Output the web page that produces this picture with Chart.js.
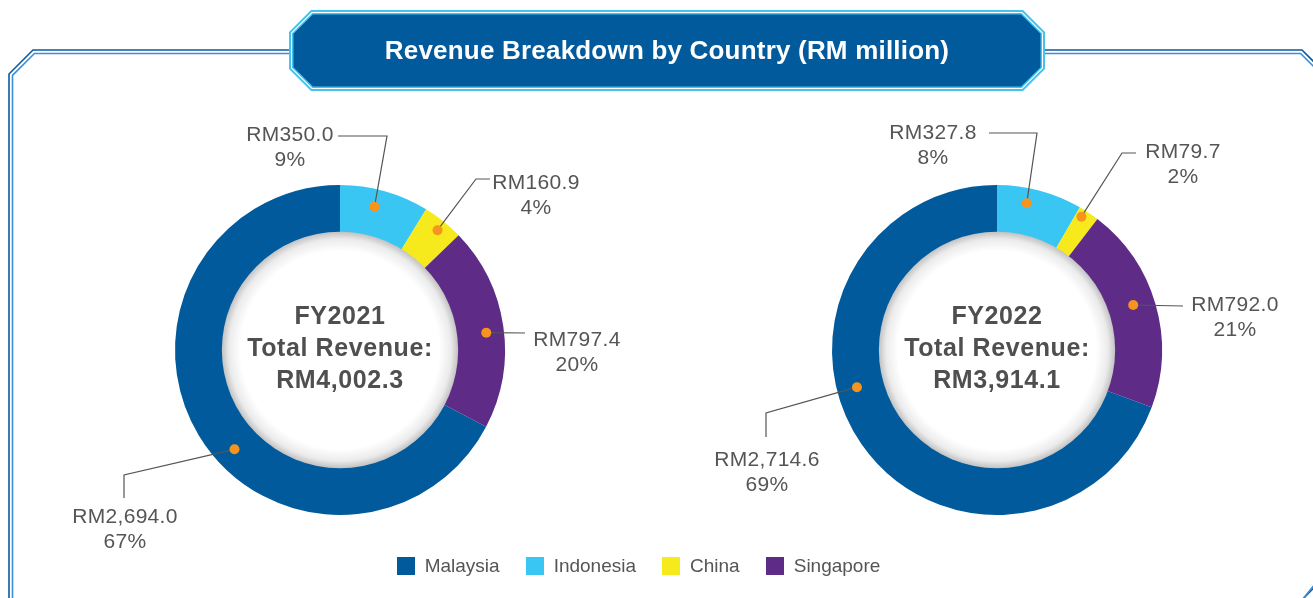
<!DOCTYPE html>
<html><head><meta charset="utf-8">
<script src="https://cdn.jsdelivr.net/npm/chart.js@4"></script>
<style>
html,body{margin:0;padding:0;background:#fff;width:1313px;height:598px;overflow:hidden;position:relative;font-family:"Liberation Sans",Arial,Helvetica,sans-serif}
canvas{position:absolute;top:0}
#bg{left:0}
#c1{left:0}
#c2{left:656px}
#title{position:absolute;left:289px;width:756px;top:10px;height:81px;line-height:81px;text-align:center;color:#fff;font-weight:bold;font-size:26px;letter-spacing:0.2px}
#legend{position:absolute;top:555px;left:0;width:1277px;display:flex;justify-content:center;align-items:center;color:#555;font-size:19px}
.item{display:flex;align-items:center;margin:0 13px}
.sw{width:18px;height:18px;margin-right:10px}
</style></head>
<body>
<canvas id="bg" width="1313" height="598"></canvas>
<canvas id="c1" width="656" height="598"></canvas>
<canvas id="c2" width="657" height="598"></canvas>
<div id="title">Revenue Breakdown by Country (RM million)</div>
<div id="legend"></div>
<script>
// ---- data ----
const categories = ['Malaysia', 'Indonesia', 'China', 'Singapore'];
const fy2021Values = [2694.0, 350.0, 160.9, 797.4];
const fy2022Values = [2714.6, 327.8, 79.7, 792.0];
const fy2021Percent = [67, 9, 4, 20];
const fy2022Percent = [69, 8, 2, 21];
const fy2021Center = ['FY2021', 'Total Revenue:', 'RM4,002.3'];
const fy2022Center = ['FY2022', 'Total Revenue:', 'RM3,914.1'];
const colors = ['#005a9c', '#3ac6f3', '#f6e91c', '#5e2b87'];

// ---- layout (label placement relative to chart centre) ----
const layout2021 = [
  {f:0.45, r:0.58, text:[-215,167], elbow:[-216,125], end:[-216,148]},
  {f:0.43, r:0.63, text:[-50,-215], elbow:[47,-214], end:[-2,-214]},
  {f:0.53, r:0.78, text:[196,-167], elbow:[136,-171], end:[150,-171]},
  {f:0.52, r:0.63, text:[237,-10], elbow:[185,-17], end:[185,-17]}
];
const layout2022 = [
  {f:0.58, r:0.58, text:[-230,110], elbow:[-231,63], end:[-231,87]},
  {f:0.38, r:0.68, text:[-64,-217], elbow:[40,-217], end:[-8,-217]},
  {f:0.3, r:0.85, text:[186,-198], elbow:[125,-197], end:[139,-197]},
  {f:0.47, r:0.55, text:[238,-45], elbow:[186,-44], end:[186,-44]}
];

// ---- background frame & banner ----
(function(){
  const c = document.getElementById('bg').getContext('2d');
  function frame(d, color){
    c.beginPath();
    c.moveTo(9+d, 600);
    c.lineTo(9+d, 575 + d*0.4);
    c.lineTo(9+d, 74+d*0.4);
    c.lineTo(33+d*0.4, 50+d);
    c.lineTo(1302-d*0.4, 50+d);
    c.lineTo(1326-d, 74+d*0.4);
    c.lineTo(1326-d, 575);
    c.lineTo(1302, 600);
    c.strokeStyle = color; c.lineWidth = 1.6; c.stroke();
  }
  frame(0, '#0d5a9c');
  frame(3.5, '#3a8fd8');
  function oct(d, color){
    const L=289+d, R=1045-d, T=10+d, B=91-d, k=22-0.586*d;
    c.beginPath();
    c.moveTo(L+k,T); c.lineTo(R-k,T); c.lineTo(R,T+k); c.lineTo(R,B-k);
    c.lineTo(R-k,B); c.lineTo(L+k,B); c.lineTo(L,B-k); c.lineTo(L,T+k); c.closePath();
    c.fillStyle = color; c.fill();
  }
  oct(0, '#45c3ef');
  oct(2, '#ffffff');
  oct(3, '#45c3ef');
  oct(4.5, '#005a9c');
})();

// ---- legend ----
const lg = document.getElementById('legend');
categories.forEach((name, i) => {
  const it = document.createElement('div'); it.className = 'item';
  const sw = document.createElement('div'); sw.className = 'sw'; sw.style.background = colors[i];
  const tx = document.createElement('span'); tx.textContent = name;
  it.appendChild(sw); it.appendChild(tx); lg.appendChild(it);
});

// ---- plugin ----
const fmt = v => 'RM' + v.toLocaleString('en-US', {minimumFractionDigits:1, maximumFractionDigits:1});
const revPlugin = {
  id: 'revLabels',
  afterDatasetsDraw(chart, args, opts) {
    const ctx = chart.ctx;
    const meta = chart.getDatasetMeta(0);
    const a0 = meta.data[0];
    const cx = a0.x, cy = a0.y, ir = a0.innerRadius, or = a0.outerRadius;
    ctx.save();
    // centre disc with inner shadow
    const g = ctx.createRadialGradient(cx, cy, 0, cx, cy, ir + 1);
    g.addColorStop(0, '#ffffff');
    g.addColorStop(0.84, '#ffffff');
    g.addColorStop(0.94, '#ebebeb');
    g.addColorStop(1, '#c2c2c2');
    ctx.beginPath(); ctx.arc(cx, cy, ir + 1, 0, Math.PI * 2); ctx.fillStyle = g; ctx.fill();
    // centre text
    ctx.fillStyle = '#4f4f4f';
    ctx.font = 'bold 25px "Liberation Sans", Arial, sans-serif';
    ctx.letterSpacing = '0.6px';
    ctx.textAlign = 'center'; ctx.textBaseline = 'middle';
    opts.center.forEach((t, i) => ctx.fillText(t, cx, cy - 33 + i * 32));
    // leader lines, dots, labels
    const vals = chart.data.datasets[0].data;
    meta.data.forEach((arc, i) => {
      const L = opts.layout[i];
      const ang = arc.startAngle + L.f * (arc.endAngle - arc.startAngle);
      const r = ir + L.r * (or - ir);
      const dx = cx + r * Math.cos(ang), dy = cy + r * Math.sin(ang);
      ctx.beginPath();
      ctx.moveTo(dx, dy);
      ctx.lineTo(cx + L.elbow[0], cy + L.elbow[1]);
      ctx.lineTo(cx + L.end[0], cy + L.end[1]);
      ctx.strokeStyle = '#555'; ctx.lineWidth = 1.2; ctx.stroke();
      ctx.beginPath(); ctx.arc(dx, dy, 5, 0, Math.PI * 2);
      ctx.fillStyle = '#f7941d'; ctx.fill();
      ctx.fillStyle = '#555';
      ctx.font = '21px "Liberation Sans", Arial, sans-serif';
      ctx.letterSpacing = '0.3px';
      const tx = cx + L.text[0], ty = cy + L.text[1];
      ctx.fillText(fmt(vals[i]), tx, ty);
      ctx.fillText(opts.percent[i] + '%', tx, ty + 25);
    });
    ctx.restore();
  }
};

function makeChart(id, values, percent, center, lay, padLeft, width) {
  const sum = values.reduce((a, b) => a + b, 0);
  return new Chart(document.getElementById(id), {
    type: 'doughnut',
    data: {labels: categories, datasets: [{data: values, backgroundColor: colors, borderWidth: 0}]},
    options: {
      responsive: false, animation: false, events: [],
      rotation: -values[0] / sum * 360,
      cutout: '71%',
      layout: {padding: {left: padLeft, right: width - padLeft - 330, top: 185, bottom: 83}},
      plugins: {legend: {display: false}, tooltip: {enabled: false},
        revLabels: {percent: percent, center: center, layout: lay}}
    },
    plugins: [revPlugin]
  });
}
makeChart('c1', fy2021Values, fy2021Percent, fy2021Center, layout2021, 175, 656);
makeChart('c2', fy2022Values, fy2022Percent, fy2022Center, layout2022, 176, 657);
</script>
</body></html>
